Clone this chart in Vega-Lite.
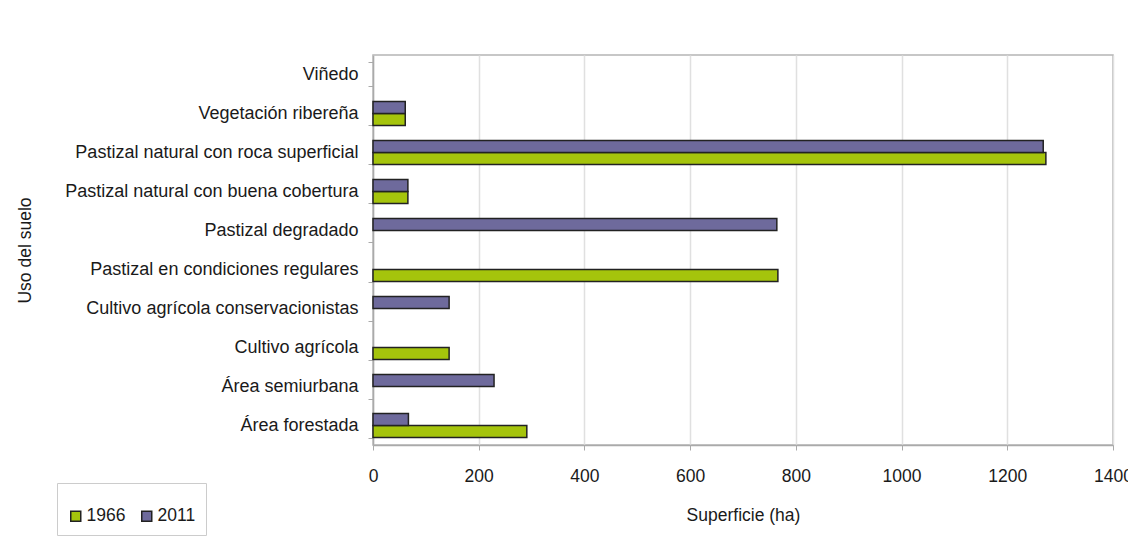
{
  "$schema": "https://vega.github.io/schema/vega-lite/v6.json",
  "width": 740,
  "height": 390,
  "autosize": {"type": "none"},
  "padding": {"left": 373, "top": 55, "right": 15, "bottom": 103},
  "background": "white",
  "config": {
    "font": "Liberation Sans",
    "view": {"stroke": "#b5b5b5", "strokeWidth": 1.5},
    "axis": {"labelFont": "Liberation Sans", "titleFont": "Liberation Sans", "labelColor": "#1a1a1a", "titleColor": "#1a1a1a", "titleFontWeight": "normal"}
  },
  "data": {
    "values": [
      {"uso": "Vegetación ribereña", "anio": "1966", "ha": 61},
      {"uso": "Vegetación ribereña", "anio": "2011", "ha": 61},
      {"uso": "Pastizal natural con roca superficial", "anio": "1966", "ha": 1273},
      {"uso": "Pastizal natural con roca superficial", "anio": "2011", "ha": 1268},
      {"uso": "Pastizal natural con buena cobertura", "anio": "1966", "ha": 66},
      {"uso": "Pastizal natural con buena cobertura", "anio": "2011", "ha": 66},
      {"uso": "Pastizal degradado", "anio": "2011", "ha": 764},
      {"uso": "Pastizal en condiciones regulares", "anio": "1966", "ha": 766},
      {"uso": "Cultivo agrícola conservacionistas", "anio": "2011", "ha": 144},
      {"uso": "Cultivo agrícola", "anio": "1966", "ha": 144},
      {"uso": "Área semiurbana", "anio": "2011", "ha": 229},
      {"uso": "Área forestada", "anio": "1966", "ha": 291},
      {"uso": "Área forestada", "anio": "2011", "ha": 67}
    ]
  },
  "mark": {"type": "bar", "stroke": "#222222", "strokeWidth": 1.5},
  "encoding": {
    "y": {
      "field": "uso",
      "type": "nominal",
      "scale": {
        "domain": ["Viñedo", "Vegetación ribereña", "Pastizal natural con roca superficial", "Pastizal natural con buena cobertura", "Pastizal degradado", "Pastizal en condiciones regulares", "Cultivo agrícola conservacionistas", "Cultivo agrícola", "Área semiurbana", "Área forestada"],
        "paddingInner": 0.385,
        "paddingOuter": 0.19
      },
      "axis": {
        "title": "Uso del suelo",
        "titleFontSize": 17.5,
        "titleX": -348,
        "titleY": 195,
        "titleBaseline": "middle",
        "titleAngle": -90,
        "labelFontSize": 18,
        "labelPadding": 10,
        "labelLimit": 400,
        "tickBand": "extent",
        "tickSize": 5,
        "tickColor": "#aaaaaa",
        "domainColor": "#aaaaaa",
        "domainWidth": 1.5,
        "grid": false
      }
    },
    "yOffset": {"field": "anio", "type": "nominal", "sort": ["2011", "1966"]},
    "x": {
      "field": "ha",
      "type": "quantitative",
      "scale": {"domain": [0, 1400], "nice": false},
      "axis": {
        "title": "Superficie (ha)",
        "titleFontSize": 17.5,
        "titlePadding": 22,
        "labelFontSize": 17.5,
        "labelPadding": 17,
        "format": "d",
        "values": [0, 200, 400, 600, 800, 1000, 1200, 1400],
        "grid": true,
        "gridColor": "#e0e0e0",
        "gridWidth": 1.5,
        "tickSize": 5,
        "tickColor": "#aaaaaa",
        "domainColor": "#aaaaaa",
        "domainWidth": 1.5,
        "labelOverlap": false,
        "labelFlush": false
      }
    },
    "color": {
      "field": "anio",
      "type": "nominal",
      "scale": {"domain": ["1966", "2011"], "range": ["#a5c40c", "#6e6a9c"]},
      "legend": {
        "title": " ",
        "titleFontSize": 12,
        "titlePadding": 2,
        "orient": "none",
        "legendX": -316,
        "legendY": 428,
        "direction": "horizontal",
        "strokeColor": "#cccccc",
        "fillColor": "white",
        "padding": 10,
        "symbolType": "square",
        "symbolSize": 100,
        "symbolStrokeColor": "#222222",
        "symbolStrokeWidth": 1.5,
        "labelFontSize": 17.5,
        "labelOffset": 2,
        "columnPadding": 12,
        "labelColor": "#1a1a1a"
      }
    }
  }
}
